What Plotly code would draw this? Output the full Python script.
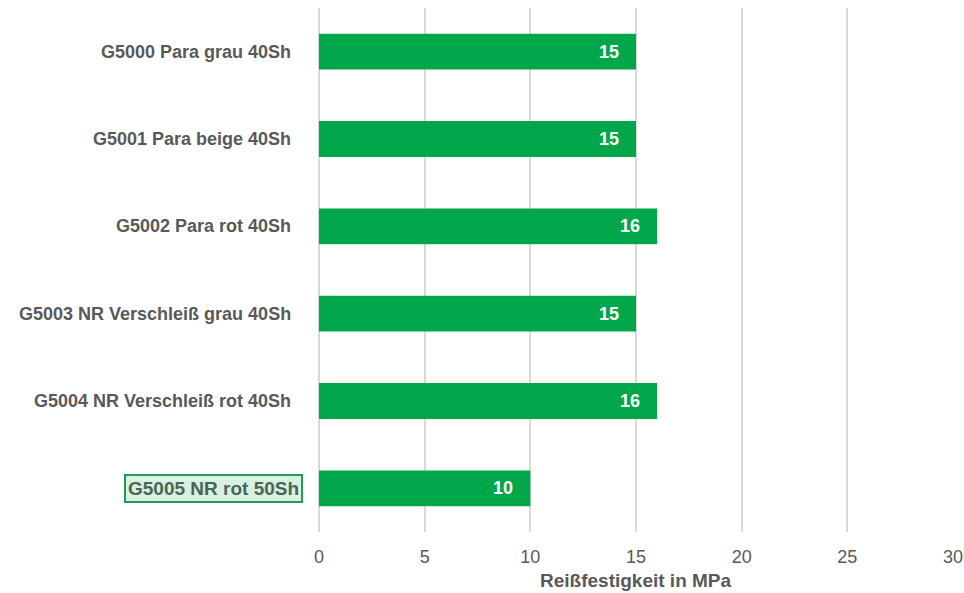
import plotly.graph_objects as go

categories = [
    "G5000 Para grau 40Sh",
    "G5001 Para beige 40Sh",
    "G5002 Para rot 40Sh",
    "G5003 NR Verschleiß grau 40Sh",
    "G5004 NR Verschleiß rot 40Sh",
    "G5005 NR rot 50Sh",
]
values = [15, 15, 16, 15, 16, 10]
highlight = "G5005 NR rot 50Sh"
x_ticks = [0, 5, 10, 15, 20, 25, 30]
x_title = "Reißfestigkeit in MPa"

FONT = "Liberation Sans"

fig = go.Figure()
fig.add_trace(go.Bar(
    y=categories,
    x=values,
    orientation="h",
    marker=dict(color="#00a74a", line=dict(width=0)),
    hoverinfo="skip",
))

annotations = []
# value labels inside bar end
for c, v in zip(categories, values):
    annotations.append(dict(
        x=v, xref="x", y=c, yref="y", xanchor="right", yanchor="middle",
        xshift=-15, text="<b>%d</b>" % v, showarrow=False,
        font=dict(family=FONT, size=18, color="white"),
    ))
# category labels
for c in categories:
    if c == highlight:
        annotations.append(dict(
            x=0, xref="paper", y=c, yref="y", xanchor="right", yanchor="middle",
            xshift=-16, text="<b>%s</b>" % c, showarrow=False,
            font=dict(family=FONT, size=19, color="#4a6652"),
            bgcolor="#d8f1e2", bordercolor="#1f9d4f", borderwidth=2, borderpad=2,
        ))
    else:
        annotations.append(dict(
            x=0, xref="paper", y=c, yref="y", xanchor="right", yanchor="middle",
            xshift=-26, text="<b>%s</b>" % c, showarrow=False,
            font=dict(family=FONT, size=18, color="#595959"),
        ))

annotations.append(dict(
    x=0.5, xref="paper", y=0, yref="paper", yanchor="top", xanchor="center",
    yshift=-36, text="<b>%s</b>" % x_title, showarrow=False,
    font=dict(family=FONT, size=19, color="#595959"),
))

fig.update_layout(
    width=964, height=593,
    margin=dict(l=319, r=11, t=8, b=61),
    paper_bgcolor="white", plot_bgcolor="white",
    font=dict(family=FONT),
    bargap=0.59,
    showlegend=False,
    annotations=annotations,
    xaxis=dict(
        range=[0, 30], tickvals=x_ticks, ticktext=[str(t) for t in x_ticks],
        showgrid=True, gridcolor="#d9d9d9", gridwidth=1.5,
        zeroline=True, zerolinecolor="#d9d9d9", zerolinewidth=1.5,
        showline=False, ticks="", ticklabelstandoff=12,
        tickfont=dict(family=FONT, size=18, color="#595959"),
        automargin=False,
    ),
    yaxis=dict(
        categoryorder="array", categoryarray=categories, autorange="reversed",
        showticklabels=False, showgrid=False, zeroline=False, ticks="",
        automargin=False,
    ),
)

fig.write_html(
    "out.html",
    config={"displayModeBar": False},
    post_script="document.body.style.margin='0';document.body.style.overflow='hidden';",
)
